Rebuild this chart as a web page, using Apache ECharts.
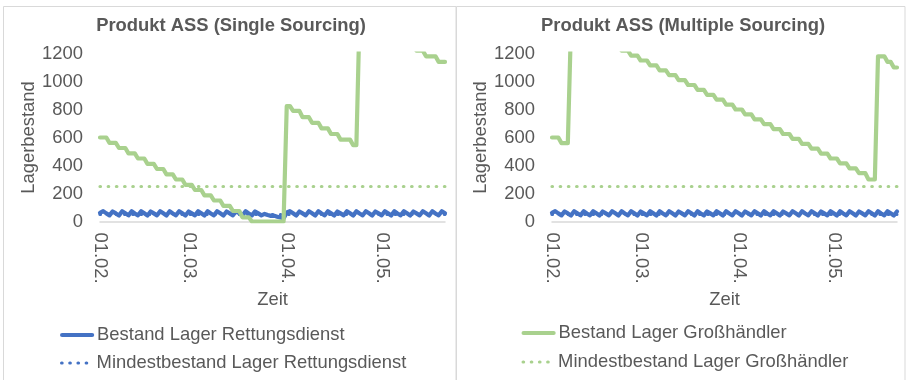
<!DOCTYPE html>
<html><head><meta charset="utf-8">
<script src="https://cdn.jsdelivr.net/npm/echarts@6/dist/echarts.min.js"></script>
<style>html,body{margin:0;padding:0;background:#fff}#c{width:908px;height:380px}</style>
</head><body><div id="c"></div><script>
// Categories (days 01.02. - 21.05.)
const categories = [
"01.02.","02.02.","03.02.","04.02.","05.02.","06.02.","07.02.","08.02.","09.02.","10.02.","11.02.","12.02.","13.02.","14.02.","15.02.","16.02.","17.02.","18.02.","19.02.","20.02.","21.02.","22.02.","23.02.","24.02.","25.02.","26.02.","27.02.","28.02.",
"01.03.","02.03.","03.03.","04.03.","05.03.","06.03.","07.03.","08.03.","09.03.","10.03.","11.03.","12.03.","13.03.","14.03.","15.03.","16.03.","17.03.","18.03.","19.03.","20.03.","21.03.","22.03.","23.03.","24.03.","25.03.","26.03.","27.03.","28.03.","29.03.","30.03.","31.03.",
"01.04.","02.04.","03.04.","04.04.","05.04.","06.04.","07.04.","08.04.","09.04.","10.04.","11.04.","12.04.","13.04.","14.04.","15.04.","16.04.","17.04.","18.04.","19.04.","20.04.","21.04.","22.04.","23.04.","24.04.","25.04.","26.04.","27.04.","28.04.","29.04.","30.04.",
"01.05.","02.05.","03.05.","04.05.","05.05.","06.05.","07.05.","08.05.","09.05.","10.05.","11.05.","12.05.","13.05.","14.05.","15.05.","16.05.","17.05.","18.05.","19.05.","20.05.","21.05."
];
const yTicks = [0, 200, 400, 600, 800, 1000, 1200];

// Single sourcing
const singleRettung = [
62,74,58,44,72,58,43,74,59,44,73,57,44,74,59,43,72,58,44,74,59,43,73,57,44,74,59,43,72,58,
44,74,59,43,73,57,44,74,59,43,72,58,44,74,59,43,73,57,44,72,58,44,54,46,40,42,34,28,22,
64,74,59,43,72,58,44,74,59,43,73,57,44,74,59,43,72,58,44,74,59,43,73,57,44,74,59,43,72,58,
44,74,59,43,73,57,44,74,59,43,72,58,44,74,59,43,73,57,44,74,59
];
const singleMinRettung = [
50,50,50,50,50,50,50,50,50,50,50,50,50,50,50,50,50,50,50,50,50,50,50,50,50,50,50,50,50,50,
50,50,50,50,50,50,50,50,50,50,50,50,50,50,50,50,50,50,50,50,50,50,50,50,50,50,50,50,50,50,
50,50,50,50,50,50,50,50,50,50,50,50,50,50,50,50,50,50,50,50,50,50,50,50,50,50,50,50,50,50,
50,50,50,50,50,50,50,50,50,50,50,50,50,50,50,50,50,50,50,50
];
const singleGross = [
600,600,600,562,562,562,525,525,525,487,487,487,450,450,450,412,412,412,375,375,375,
337,337,337,300,300,300,262,262,262,225,225,225,187,187,187,150,150,150,112,112,112,
75,75,75,30,30,30,0,0,0,0,0,0,0,0,0,0,0,
825,825,790,790,790,745,745,745,705,705,705,665,665,665,625,625,625,585,585,585,585,545,545,
1460,1460,1460,1420,1420,1420,1380,1380,1380,1340,1340,1340,1300,1300,1300,1260,1260,1260,1220,1220,1220,
1180,1180,1180,1180,1140,1140,1140
];
const singleMinGross = [
250,250,250,250,250,250,250,250,250,250,250,250,250,250,250,250,250,250,250,250,250,250,250,250,250,250,250,250,250,250,
250,250,250,250,250,250,250,250,250,250,250,250,250,250,250,250,250,250,250,250,250,250,250,250,250,250,250,250,250,250,
250,250,250,250,250,250,250,250,250,250,250,250,250,250,250,250,250,250,250,250,250,250,250,250,250,250,250,250,250,250,
250,250,250,250,250,250,250,250,250,250,250,250,250,250,250,250,250,250,250,250
];

// Multiple sourcing
const multiRettung = [
62,74,58,44,72,58,43,74,59,44,73,57,44,74,59,43,72,58,44,74,59,43,73,57,44,74,59,43,72,58,
44,74,59,43,73,57,44,74,59,43,72,58,44,74,59,43,73,57,44,72,58,44,74,59,43,73,57,44,74,59,
43,72,58,44,74,59,43,73,57,44,74,59,43,72,58,44,74,59,43,73,57,44,74,59,43,72,58,44,74,59,
43,73,57,44,74,59,43,72,58,44,74,59,43,73,57,44,74,59,43,72
];
const multiMinRettung = singleMinRettung.slice();
const multiGross = [
600,600,600,560,560,560,1400,1400,1400,1400,
1360,1360,1360,1325,1325,1325,1290,1290,1290,1255,1255,1255,1220,1220,1220,1185,1185,1185,
1150,1150,1150,1115,1115,1115,1080,1080,1080,1045,1045,1045,1010,1010,1010,975,975,975,
940,940,940,905,905,905,870,870,870,835,835,835,800,800,800,765,765,765,730,730,730,
695,695,695,660,660,660,625,625,625,590,590,590,555,555,555,520,520,520,485,485,485,
450,450,450,415,415,415,380,380,380,345,345,345,300,300,300,
1180,1180,1180,1140,1140,1100,1100
];
const multiMinGross = singleMinGross.slice();

const FONT = "'Liberation Sans', Arial, sans-serif";
const TXT = '#595959';
const BLUE = '#4472C4';
const GREEN = '#A9D18E';
const names = ['Bestand Lager Rettungsdienst','Mindestbestand Lager Rettungsdienst','Bestand Lager Großhändler','Mindestbestand Lager Großhändler'];
const DOT = [0.5, 7.7];

function xAx(gi){
  return {type:'category', gridIndex:gi, data:categories, boundaryGap:false,
    axisLine:{lineStyle:{color:'#D9D9D9', width:1.5}}, axisTick:{show:false},
    axisLabel:{interval:function(i,v){return v.indexOf('01.')===0;}, rotate:-90, margin:11, fontSize:18.4, color:TXT, fontFamily:FONT},
    name:'Zeit', nameLocation:'middle', nameGap:69, nameTextStyle:{fontSize:18.4, color:TXT, fontFamily:FONT}};
}
function yAx(gi){
  return {type:'value', gridIndex:gi, min:yTicks[0], max:yTicks[yTicks.length-1], interval:200,
    axisLine:{show:false}, axisTick:{show:false}, splitLine:{show:false},
    axisLabel:{margin:17, fontSize:18.4, color:TXT, fontFamily:FONT, formatter:function(v){return String(v);}},
    name:'Lagerbestand', nameLocation:'middle', nameGap:47, nameRotate:90,
    nameTextStyle:{fontSize:18.4, color:TXT, fontFamily:FONT}};
}
function ser(gi, name, data, color, dotted){
  return {type:'line', name:name, xAxisIndex:gi, yAxisIndex:gi, data:data, symbol:'none', clip:true,
    lineStyle: dotted ? {color:color, width:3.2, type:DOT, cap:'round'} : {color:color, width:4.2, join:'round', cap:'round'},
    itemStyle:{color:color}, emphasis:{disabled:true}, animation:false};
}
function leg(name, left, top){
  return {data:[name], left:left, top:top, padding:0, itemWidth:30, itemHeight:20,
    itemStyle:{opacity:0},
    lineStyle:{width:'inherit', type:'inherit', cap:'inherit'},
    textStyle:{fontSize:18.4, color:TXT, fontFamily:FONT, lineHeight:20}};
}
const chart = echarts.init(document.getElementById('c'), null, {renderer:'canvas'});
chart.setOption({
  animation:false,
  backgroundColor:'#fff',
  title:[
    {text:'Produkt ASS (Single Sourcing)', left:231, top:17, textAlign:'center', padding:0,
     textStyle:{fontSize:18.4, fontWeight:'bold', color:TXT, fontFamily:FONT}},
    {text:'Produkt ASS (Multiple Sourcing)', left:683, top:17, textAlign:'center', padding:0,
     textStyle:{fontSize:18.4, fontWeight:'bold', color:TXT, fontFamily:FONT}}
  ],
  grid:[
    {left:100, top:53.5, width:345, height:168, outerBoundsMode:'none'},
    {left:552, top:53.5, width:345, height:168, outerBoundsMode:'none'}
  ],
  xAxis:[xAx(0), xAx(1)],
  yAxis:[yAx(0), yAx(1)],
  legend:[
    leg(names[0], 60, 325), leg(names[1], 60, 353),
    leg(names[2], 521.5, 323), leg(names[3], 521.5, 352)
  ],
  graphic:[
    {type:'rect', silent:true, shape:{x:3.5, y:6.5, width:452.5, height:380}, style:{fill:'none', stroke:'#D9D9D9', lineWidth:1}},
    {type:'rect', silent:true, shape:{x:456.5, y:6.5, width:448.5, height:380}, style:{fill:'none', stroke:'#D9D9D9', lineWidth:1}}
  ],
  series:[
    ser(0, names[0], singleRettung, BLUE, false),
    ser(0, names[1], singleMinRettung, BLUE, true),
    ser(0, names[2], singleGross, GREEN, false),
    ser(0, names[3], singleMinGross, GREEN, true),
    ser(1, names[0], multiRettung, BLUE, false),
    ser(1, names[1], multiMinRettung, BLUE, true),
    ser(1, names[2], multiGross, GREEN, false),
    ser(1, names[3], multiMinGross, GREEN, true)
  ]
});
</script></body></html>
